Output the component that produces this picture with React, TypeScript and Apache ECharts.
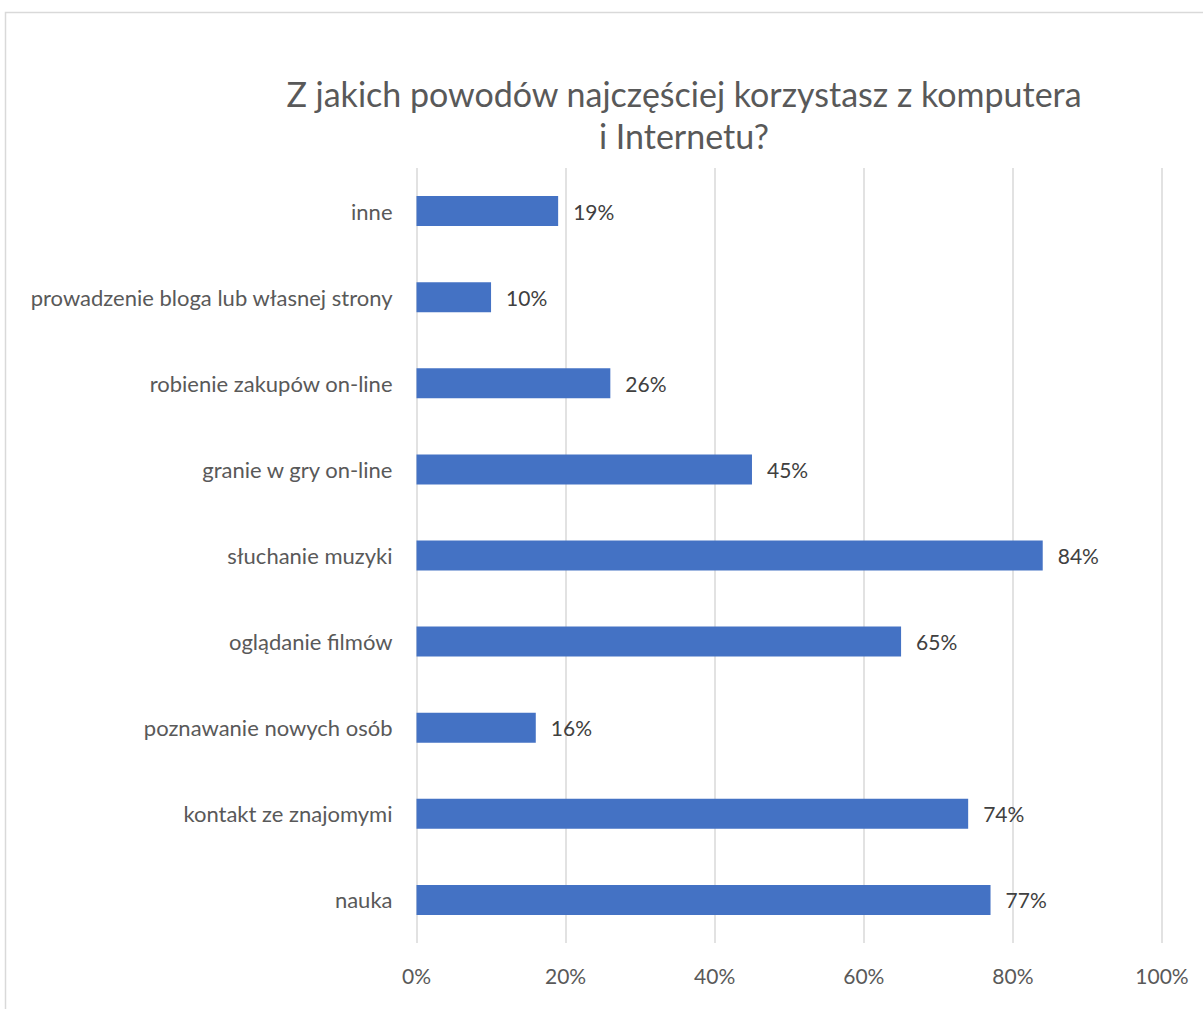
import React, { useEffect, useRef } from "react";
import * as echarts from "echarts";

const categories = [
  "nauka",
  "kontakt ze znajomymi",
  "poznawanie nowych osób",
  "oglądanie filmów",
  "słuchanie muzyki",
  "granie w gry on-line",
  "robienie zakupów on-line",
  "prowadzenie bloga lub własnej strony",
  "inne",
];
const values = [77, 74, 16, 65, 84, 45, 26, 10, 19];
const titleText = "Z jakich powodów najczęściej korzystasz z komputera\ni Internetu?";

const FONT = "Lato, 'Open Sans', sans-serif";

export default function App() {
  const ref = useRef<HTMLDivElement>(null);
  useEffect(() => {
    if (!ref.current) return;
    const chart = echarts.init(ref.current, undefined, { renderer: "svg" });
    chart.setOption({
      animation: false,
      backgroundColor: "#ffffff",
      graphic: [
        {
          type: "rect",
          shape: { x: 5.5, y: 12.5, width: 1300, height: 1100 },
          style: { fill: "none", stroke: "#d9d9d9", lineWidth: 1.5 },
          silent: true,
        },
      ],
      title: {
        text: titleText,
        left: 679,
        textAlign: "center",
        top: 67,
        textStyle: {
          fontFamily: FONT,
          fontSize: 34,
          fontWeight: "normal",
          color: "#595959",
          lineHeight: 42,
        },
      },
      grid: { left: 416.5, right: 1203 - 1162, top: 168, bottom: 1009 - 943, containLabel: false },
      xAxis: {
        type: "value",
        min: 0,
        max: 100,
        interval: 20,
        axisLabel: {
          formatter: "{value}%",
          fontFamily: FONT,
          fontSize: 21,
          color: "#595959",
          margin: 22,
        },
        axisLine: { show: false },
        axisTick: { show: false },
        splitLine: { lineStyle: { color: "#d9d9d9", width: 1.5 } },
      },
      yAxis: {
        type: "category",
        data: categories,
        axisLine: { show: false },
        axisTick: { show: false },
        axisLabel: {
          fontFamily: FONT,
          fontSize: 22,
          color: "#595959",
          margin: 24,
        },
      },
      series: [
        {
          type: "bar",
          data: values,
          barWidth: 30,
          itemStyle: { color: "#4472c4" },
          label: {
            show: true,
            position: "right",
            distance: 15,
            formatter: "{c}%",
            fontFamily: FONT,
            fontSize: 21,
            color: "#404040",
          },
        },
      ],
    });
    return () => chart.dispose();
  }, []);
  return (
    <div
      ref={ref}
      style={{ position: "absolute", left: 0, top: 0, width: 1203, height: 1009 }}
    />
  );
}
